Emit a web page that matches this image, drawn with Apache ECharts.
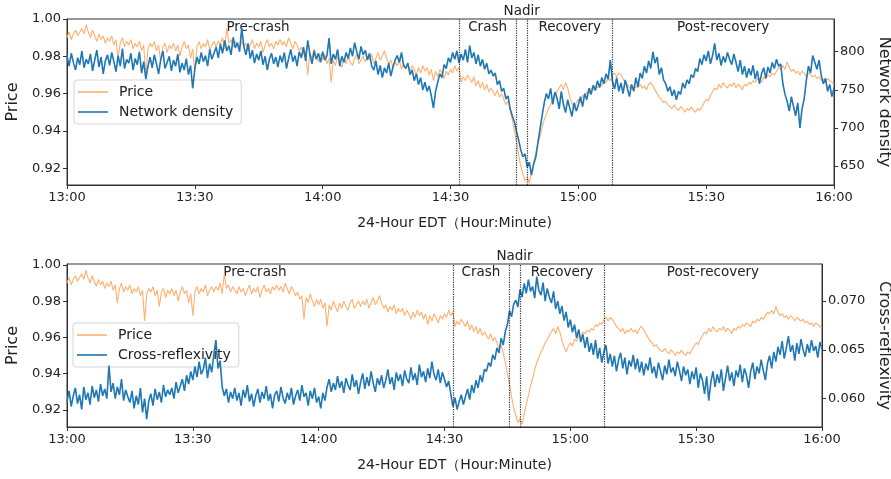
<!DOCTYPE html>
<html>
<head>
<meta charset="utf-8">
<script src="https://cdn.jsdelivr.net/npm/echarts@6/dist/echarts.min.js"></script>
<style>html,body{margin:0;padding:0;background:#fff;overflow:hidden}#c{width:891px;height:479px}</style>
</head>
<body>
<div id="c"></div>
<script>
// sampling step (minutes after 13:00)
const stepMinutes = 0.5;
const xTickLabels = ['13:00','13:30','14:00','14:30','15:00','15:30','16:00'];
const phaseBounds = [92, 105.4, 108, 128]; // minutes after 13:00
const phaseNames = ['Pre-crash','Crash','Nadir','Recovery','Post-recovery'];
const priceTicks = [0.92,0.94,0.96,0.98,1.00];
const densityTicks = [650,700,750,800];
const reflexTicks = [0.060,0.065,0.070];

const price = [
0.990,0.993,0.989,0.992,0.994,0.991,0.993,0.995,0.992,0.997,
0.993,0.990,0.994,0.991,0.988,0.992,0.989,0.991,0.987,0.990,
0.988,0.991,0.986,0.989,0.979,0.987,0.990,0.985,0.988,0.986,
0.989,0.984,0.987,0.985,0.988,0.983,0.986,0.969,0.984,0.987,
0.985,0.988,0.983,0.986,0.977,0.985,0.987,0.982,0.986,0.984,
0.987,0.983,0.986,0.980,0.985,0.988,0.984,0.986,0.979,0.984,
0.972,0.985,0.988,0.984,0.987,0.985,0.989,0.983,0.986,0.988,
0.985,0.988,0.986,0.990,0.984,0.995,0.987,0.989,0.985,0.988,
0.986,0.984,0.988,0.985,0.987,0.983,0.986,0.989,0.984,0.987,
0.985,0.988,0.982,0.986,0.989,0.985,0.987,0.984,0.988,0.986,
0.989,0.986,0.988,0.985,0.990,0.987,0.984,0.988,0.986,0.983,
0.985,0.981,0.983,0.970,0.982,0.979,0.984,0.980,0.977,0.981,
0.978,0.981,0.976,0.979,0.966,0.978,0.975,0.980,0.977,0.974,
0.979,0.976,0.980,0.977,0.975,0.979,0.981,0.976,0.978,0.980,
0.977,0.980,0.978,0.981,0.976,0.979,0.982,0.978,0.980,0.983,
0.979,0.976,0.978,0.974,0.977,0.975,0.978,0.973,0.976,0.974,
0.976,0.972,0.975,0.973,0.970,0.974,0.971,0.975,0.972,0.974,
0.970,0.973,0.967,0.972,0.969,0.973,0.971,0.968,0.972,0.970,
0.973,0.971,0.975,0.972,0.974,0.966,0.969,0.967,0.970,0.968,
0.966,0.969,0.964,0.967,0.963,0.966,0.962,0.965,0.961,0.963,
0.961,0.959,0.962,0.958,0.960,0.957,0.954,0.956,0.951,0.946,
0.940,0.934,0.927,0.921,0.917,0.913,0.915,0.912,0.918,0.923,
0.928,0.933,0.937,0.942,0.946,0.949,0.952,0.954,0.957,0.959,
0.961,0.963,0.965,0.962,0.966,0.963,0.958,0.955,0.952,0.955,
0.957,0.955,0.959,0.958,0.961,0.960,0.963,0.962,0.964,0.963,
0.965,0.964,0.967,0.966,0.968,0.967,0.970,0.971,0.969,0.971,
0.970,0.968,0.966,0.965,0.963,0.965,0.962,0.964,0.963,0.965,
0.963,0.964,0.962,0.965,0.966,0.964,0.962,0.960,0.958,0.957,
0.955,0.956,0.954,0.953,0.952,0.954,0.952,0.951,0.953,0.952,
0.950,0.952,0.951,0.953,0.951,0.950,0.952,0.951,0.953,0.955,
0.957,0.956,0.959,0.961,0.963,0.962,0.965,0.963,0.966,0.964,
0.963,0.965,0.964,0.966,0.963,0.965,0.964,0.962,0.965,0.964,
0.966,0.965,0.967,0.966,0.968,0.967,0.966,0.969,0.968,0.970,
0.969,0.971,0.970,0.972,0.974,0.973,0.975,0.973,0.977,0.974,
0.972,0.973,0.971,0.972,0.970,0.972,0.971,0.969,0.971,0.970,
0.969,0.970,0.968,0.969,0.967,0.968,0.966,0.968,0.967,0.966,
0.965];

const networkDensity = [
795,781,798,786,776,792,783,801,779,790,
784,797,775,789,802,780,793,771,788,796,
782,799,787,774,795,781,804,778,790,785,
798,776,791,783,800,772,787,764,781,793,
779,796,784,771,790,801,778,786,794,775,
789,781,797,773,785,776,791,770,782,752,
778,793,784,799,787,795,781,803,790,798,
806,792,810,798,815,801,808,796,819,805,
812,800,831,807,796,811,791,802,785,797,
789,801,783,794,776,790,798,784,793,780,
795,786,799,778,791,803,787,795,781,800,
792,806,788,815,797,784,801,790,798,786,
800,789,795,818,784,797,790,803,781,794,
786,799,791,805,794,812,800,790,807,796,
802,789,798,781,776,788,770,782,766,779,
772,785,768,780,789,795,786,799,782,778,
785,770,776,762,771,757,766,750,760,748,
755,742,726,748,760,771,766,783,778,792,
786,799,790,801,785,797,789,803,786,808,
792,799,784,796,781,790,777,785,771,776,
768,772,757,762,748,752,738,742,725,716,
708,695,684,671,662,666,648,655,638,652,
661,680,698,716,733,745,738,752,731,747,
739,725,748,731,720,737,726,715,733,722,
730,741,728,745,737,752,744,756,749,762,
753,766,758,771,764,789,762,751,766,748,
759,745,763,752,741,757,748,766,754,772,
765,781,772,788,778,800,785,793,770,779,
763,758,748,754,742,750,737,748,744,759,
752,763,758,770,766,778,774,791,783,796,
788,801,784,795,811,789,798,782,794,786,
799,790,783,797,786,774,789,770,781,766,
778,769,782,764,775,758,771,779,765,780,
772,786,778,790,781,784,758,744,735,722,
741,728,716,733,700,725,738,762,781,772,
795,786,777,789,769,758,765,748,757,741,
752];

const crossReflexivity = [
0.0597,0.0608,0.0592,0.0603,0.0611,0.0595,0.0604,0.0589,0.0612,0.0599,
0.0606,0.0594,0.0613,0.0601,0.0609,0.0597,0.0615,0.0603,0.0610,0.0600,
0.0634,0.0607,0.0616,0.0600,0.0612,0.0604,0.0620,0.0598,0.0609,0.0602,
0.0596,0.0608,0.0590,0.0603,0.0594,0.0611,0.0586,0.0600,0.0579,0.0598,
0.0605,0.0593,0.0610,0.0599,0.0607,0.0596,0.0614,0.0602,0.0609,0.0604,
0.0611,0.0600,0.0617,0.0606,0.0613,0.0620,0.0608,0.0624,0.0615,0.0628,
0.0619,0.0633,0.0622,0.0638,0.0625,0.0630,0.0642,0.0621,0.0636,0.0627,
0.0645,0.0660,0.0631,0.0639,0.0612,0.0603,0.0610,0.0596,0.0607,0.0600,
0.0611,0.0598,0.0606,0.0593,0.0609,0.0601,0.0614,0.0597,0.0605,0.0592,
0.0603,0.0610,0.0596,0.0607,0.0600,0.0613,0.0598,0.0605,0.0590,0.0604,
0.0608,0.0597,0.0612,0.0601,0.0595,0.0606,0.0599,0.0611,0.0594,0.0603,
0.0609,0.0598,0.0614,0.0602,0.0606,0.0593,0.0608,0.0600,0.0611,0.0596,
0.0602,0.0590,0.0606,0.0598,0.0612,0.0620,0.0607,0.0616,0.0609,0.0623,
0.0611,0.0618,0.0606,0.0621,0.0614,0.0609,0.0625,0.0612,0.0619,0.0605,
0.0617,0.0626,0.0610,0.0622,0.0613,0.0628,0.0616,0.0607,0.0621,0.0614,
0.0624,0.0611,0.0619,0.0630,0.0615,0.0622,0.0609,0.0627,0.0618,0.0625,
0.0613,0.0629,0.0620,0.0616,0.0632,0.0619,0.0626,0.0614,0.0635,0.0622,
0.0628,0.0617,0.0631,0.0621,0.0638,0.0625,0.0619,0.0630,0.0616,0.0627,
0.0620,0.0612,0.0618,0.0605,0.0592,0.0601,0.0589,0.0597,0.0604,0.0594,
0.0602,0.0610,0.0599,0.0614,0.0606,0.0619,0.0611,0.0624,0.0617,0.0630,
0.0628,0.0637,0.0633,0.0645,0.0640,0.0652,0.0647,0.0662,0.0655,0.0669,
0.0676,0.0690,0.0684,0.0697,0.0701,0.0694,0.0712,0.0704,0.0718,0.0708,
0.0722,0.0710,0.0715,0.0703,0.0725,0.0711,0.0706,0.0719,0.0700,0.0713,
0.0704,0.0698,0.0710,0.0692,0.0700,0.0687,0.0695,0.0680,0.0689,0.0673,
0.0681,0.0668,0.0676,0.0662,0.0671,0.0658,0.0666,0.0652,0.0663,0.0648,
0.0657,0.0645,0.0660,0.0641,0.0652,0.0637,0.0648,0.0655,0.0636,0.0646,
0.0633,0.0644,0.0628,0.0640,0.0647,0.0631,0.0642,0.0625,0.0639,0.0633,
0.0645,0.0630,0.0641,0.0627,0.0638,0.0624,0.0636,0.0629,0.0642,0.0626,
0.0633,0.0621,0.0637,0.0628,0.0619,0.0634,0.0625,0.0640,0.0627,0.0632,
0.0623,0.0638,0.0629,0.0618,0.0633,0.0624,0.0630,0.0615,0.0628,0.0620,
0.0632,0.0611,0.0626,0.0619,0.0605,0.0623,0.0598,0.0617,0.0628,0.0612,
0.0625,0.0616,0.0630,0.0608,0.0621,0.0634,0.0618,0.0627,0.0613,0.0629,
0.0622,0.0635,0.0617,0.0631,0.0624,0.0611,0.0628,0.0637,0.0620,0.0633,
0.0626,0.0640,0.0629,0.0619,0.0636,0.0644,0.0631,0.0648,0.0638,0.0653,
0.0645,0.0659,0.0641,0.0652,0.0664,0.0648,0.0655,0.0639,0.0657,0.0646,
0.0661,0.0650,0.0643,0.0656,0.0647,0.0660,0.0649,0.0654,0.0642,0.0658,
0.0651];

const FONT = 'DejaVu Sans';
const TXT = '#222';
const ORANGE = '#ffb070';
const BLUE = '#1f77b4';

const toPairs = arr => arr.map((v, i) => [i * stepMinutes, v]);

function xAxisCfg(gridIndex) {
  return {
    type: 'value', gridIndex, min: 0, max: 180, interval: 30,
    name: '24-Hour EDT（Hour:Minute)', nameLocation: 'middle', nameGap: 31,
    nameTextStyle: {fontFamily: FONT, fontSize: 14, color: TXT, padding: gridIndex === 0 ? [0,0,0,8] : [0,0,0,20]},
    axisLine: {show: true, lineStyle: {color: '#333', width: 1}},
    axisTick: {show: true, length: 4, lineStyle: {color: '#333'}},
    axisLabel: {fontFamily: FONT, fontSize: 13, color: TXT, margin: 6,
      formatter: v => xTickLabels[Math.round(v / 30)]},
    splitLine: {show: false}
  };
}
function yAxisCfg(gridIndex, pos, min, max, ticks, digits, name, gap) {
  return {
    type: 'value', gridIndex, position: pos, min, max,
    name, nameLocation: 'middle', nameGap: gap, nameRotate: pos === 'left' ? 90 : -90,
    nameTextStyle: {fontFamily: FONT, fontSize: 16, color: TXT},
    axisLine: {show: true, lineStyle: {color: '#333', width: 1}},
    axisTick: {show: true, length: 4, lineStyle: {color: '#333'}, customValues: ticks},
    axisLabel: {fontFamily: FONT, fontSize: 13, color: TXT, margin: 6, customValues: ticks,
      formatter: v => Number(v).toFixed(digits)},
    splitLine: {show: false}
  };
}

function phaseAreas() {
  const b = [0].concat(phaseBounds).concat([180]);
  return phaseNames.map((nm, i) => [
    {xAxis: b[i], name: nm,
     label: nm === 'Nadir' ? {position: 'top', distance: 1} : {position: 'insideTop', distance: 1, offset: nm === 'Pre-crash' ? [-5, 0] : [0, 0]}},
    {xAxis: b[i + 1]}
  ]);
}

function priceSeries(xi, yi, withMarks) {
  const s = {
    name: 'Price', type: 'line', xAxisIndex: xi, yAxisIndex: yi,
    data: toPairs(price), showSymbol: false, symbol: 'none', z: 1,
    lineStyle: {color: ORANGE, width: 1.1}, itemStyle: {color: ORANGE},
    animation: false, silent: true
  };
  if (withMarks) {
    s.markLine = {
      silent: true, symbol: ['none', 'none'], animation: false,
      label: {show: false},
      lineStyle: {type: 'dotted', color: '#333', width: 1.2},
      data: phaseBounds.map(v => ({xAxis: v}))
    };
    s.markArea = {
      silent: true, animation: false,
      itemStyle: {color: 'rgba(0,0,0,0)'},
      label: {show: true, color: TXT, fontFamily: FONT, fontSize: 13.5},
      data: phaseAreas()
    };
  }
  return s;
}

const legendBase = {
  orient: 'vertical', icon: 'rect', itemWidth: 30, itemHeight: 1.6, itemGap: 4,
  padding: [4, 8, 4, 4], backgroundColor: '#fff', borderColor: '#d5d5d5', borderWidth: 1, borderRadius: 3,
  textStyle: {fontFamily: FONT, fontSize: 14, color: TXT, lineHeight: 16, padding: [0, 0, 0, 6]},
  z: 2, selectedMode: false
};

const option = {
  backgroundColor: '#fff',
  animation: false,
  grid: [
    {left: 67, top: 19, right: 57, height: 166, show: true, borderColor: '#333', borderWidth: 1, outerBoundsMode: 'none', containLabel: false},
    {left: 67, top: 264, right: 69, height: 163, show: true, borderColor: '#333', borderWidth: 1, outerBoundsMode: 'none', containLabel: false}
  ],
  legend: [
    Object.assign({}, legendBase, {left: 74, top: 80, data: ['Price', 'Network density']}),
    Object.assign({}, legendBase, {left: 73, top: 323, data: ['Price', 'Cross-reflexivity']})
  ],
  xAxis: [xAxisCfg(0), xAxisCfg(1)],
  yAxis: [
    yAxisCfg(0, 'left', 0.911, 1.0, priceTicks, 2, 'Price', 42),
    yAxisCfg(0, 'right', 625, 843, densityTicks, 0, 'Network density', 32),
    yAxisCfg(1, 'left', 0.9105, 1.0005, priceTicks, 2, 'Price', 42),
    yAxisCfg(1, 'right', 0.0571, 0.0738, reflexTicks, 3, 'Cross-reflexivity', 49)
  ],
  series: [
    priceSeries(0, 0, true),
    {
      name: 'Network density', type: 'line', xAxisIndex: 0, yAxisIndex: 1,
      data: toPairs(networkDensity), showSymbol: false, symbol: 'none', z: 3,
      lineStyle: {color: BLUE, width: 1.6}, itemStyle: {color: BLUE}, silent: true
    },
    priceSeries(1, 2, true),
    {
      name: 'Cross-reflexivity', type: 'line', xAxisIndex: 1, yAxisIndex: 3,
      data: toPairs(crossReflexivity), showSymbol: false, symbol: 'none', z: 3,
      lineStyle: {color: BLUE, width: 1.6}, itemStyle: {color: BLUE}, silent: true
    }
  ]
};

const chart = echarts.init(document.getElementById('c'), null, {renderer: 'canvas'});
chart.setOption(option);
</script>
</body>
</html>
